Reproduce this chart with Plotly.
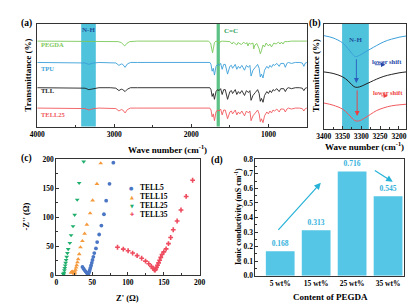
import plotly.graph_objects as go

W, H = 418, 306
FONT = "Liberation Serif"

# ---------------- data: panel (a) FTIR ----------------
pegda_wn = [4000, 3500, 3000, 2950, 2910, 2880, 2865, 2840, 2800, 2700, 2000, 1780, 1750, 1735, 1725,
            1715, 1700, 1680, 1650, 1637, 1625, 1600, 1500, 1470, 1455, 1440, 1410, 1395, 1380, 1350,
            1320, 1295, 1280, 1265, 1250, 1230, 1200, 1190, 1175, 1150, 1120, 1105, 1090, 1070, 1050,
            1030, 1000, 980, 960, 945, 930, 900, 870, 850, 830, 810, 790, 750, 700, 600, 500]
pegda_t = [88, 88, 88, 87.5, 86.5, 84, 83, 85.5, 87.5, 88, 88, 88, 86, 80, 76,
           80, 86.5, 88, 87.5, 85.5, 87.5, 88, 87.5, 85, 87, 86, 84, 86.5, 86, 84.5,
           87, 85, 86.5, 83, 86, 85, 86, 80, 84, 85.5, 80, 75, 78, 84, 82,
           86, 83, 85, 82, 84.5, 86, 85, 87, 85, 87, 85, 87.5, 87.5, 88, 88, 88]

ftir_wn = [4000, 3600, 3450, 3380, 3330, 3280, 3200, 3050, 2980, 2940, 2910, 2890, 2860, 2830, 2790,
           2700, 2400, 2000, 1800, 1760, 1745, 1730, 1715, 1700, 1680, 1660, 1640, 1620, 1600, 1580,
           1560, 1530, 1500, 1480, 1465, 1450, 1430, 1410, 1390, 1370, 1345, 1310, 1285, 1260, 1240,
           1225, 1200, 1170, 1140, 1120, 1105, 1090, 1070, 1050, 1020, 1000, 980, 960, 940, 920,
           890, 860, 840, 800, 780, 760, 740, 700, 650, 600, 560, 540, 520, 500]
tpu_t = [66, 66, 66, 65.5, 64, 65.3, 66, 66, 65.5, 63, 64.5, 64, 61, 64.5, 66,
         66, 66, 66, 66, 66, 64, 57, 60, 53, 62, 64, 63, 65, 59, 64,
         64, 54, 62, 63, 60, 62, 64, 59, 62, 60, 63, 58, 63, 61, 63,
         52, 58, 61, 64, 60, 51, 54, 50, 58, 62, 60, 63, 61, 64, 63,
         65, 62, 65, 65, 61, 65, 66, 65, 66, 66, 65.5, 62, 65.5, 66]
tll_t = [40, 40, 40, 39.5, 38, 39, 40, 40, 39.5, 37, 38.5, 38, 36, 38.5, 40,
         40, 40, 40, 40, 40, 38, 31, 34, 28, 36, 38, 37, 39, 33, 38,
         38, 28, 36, 37, 34, 36, 38, 33, 36, 34, 37, 32, 37, 35, 37,
         27, 32, 35, 38, 34, 26, 29, 25, 32, 36, 34, 37, 35, 38, 37,
         39, 36, 39, 39, 36, 39, 40, 39, 40, 40, 39.5, 37, 39.5, 40]
tell25_t = [19, 19, 19, 18.5, 17, 18.3, 19, 19, 18.5, 16, 17.5, 17, 14, 17.5, 19,
            19, 19, 19, 19, 19, 17, 10, 13, 6, 15, 17, 16, 18, 12, 17,
            17, 8, 15, 16, 13, 15, 17, 12, 15, 13, 16, 11, 16, 14, 16,
            6, 11, 14, 17, 13, 5, 8, 4, 11, 15, 13, 16, 14, 17, 16,
            18, 15, 18, 18, 15, 18, 19, 18, 19, 19, 18.5, 16, 18.5, 19]
ftir_names = ["PEGDA", "TPU", "TLL", "TELL25"]

# ---------------- data: panel (b) N-H zoom ----------------
nh_wn = [3400, 3375, 3350, 3335, 3325, 3316, 3305, 3290, 3275, 3260, 3240, 3220, 3200, 3180]
nh_tpu = [96.4, 94, 89, 83, 78, 74.7, 76, 79.4, 82.7, 86, 90, 92.7, 94.7, 96]
nh_tll = [59, 57.4, 54, 49.7, 45.7, 43.2, 43.5, 46, 48.7, 51.4, 54.4, 56.4, 58, 59]
nh_tell25 = [27, 24.7, 20.7, 15.7, 11.5, 8.6, 8.6, 11.7, 15.4, 19, 22, 24, 25, 25.7]

# ---------------- data: panel (c) Nyquist ----------------
tell5_re = [36.5, 38, 39.5, 41, 42.5, 43.5, 44.5, 45.3, 46, 46.8, 47.6, 48.5, 49.5, 50.5, 51.7, 53,
            55.3, 57, 59.8, 62.9, 66.5, 69.6, 74.2, 79.6]
tell5_im = [14, 11, 8.5, 6, 4, 2.5, 2, 3.5, 6, 9, 12.5, 16.5, 21, 26, 31.5, 38,
            46, 57, 70, 85.5, 105, 128.5, 157.5, 194]
tell15_re = [20.5, 21.5, 22.5, 23.5, 24.3, 25, 25.5, 26, 26.8, 27.6, 28.5, 29.5, 30.5, 32, 33.7,
             36.4, 39.5, 42.6, 47.2, 50.7, 56.7, 62]
tell15_im = [4, 5.5, 6, 5, 3.5, 2.5, 3.5, 6, 9, 13, 17, 22, 27.5, 36, 48,
             58.7, 71.5, 87, 106.7, 129, 157.5, 193]
tell25_re = [9.5, 10.3, 10.8, 11.3, 11.8, 12.4, 13.0, 13.7, 14.5, 15.5, 16.6, 18.9, 20.6, 23.3,
             25.6, 29.2, 31.9, 38.2]
tell25_im = [2, 1, 4, 8, 12, 16.5, 21, 26, 31.5, 38, 44.7, 55.3, 68.7, 84.3,
             104, 130, 159, 196]
tell35_re = [85.4, 93.5, 100.2, 106.5, 112.8, 119.1, 124.5, 129, 132.6, 135, 136.8, 137.8, 138.8,
             140, 141.3, 142.7, 144.2, 145.8, 147.5, 150, 153.2, 156.5, 159.6, 163.2, 168.6, 174,
             181.2, 190.2]
tell35_im = [48, 44.7, 41.9, 38, 33.5, 29, 24, 19.6, 15, 11.5, 9, 8.5, 10.5,
             13.5, 17, 21, 25.5, 30.5, 35.5, 40, 45.2, 54.2, 64.8, 78.2, 93.3, 112.3,
             135.7, 163.7]
eis_names = ["TELL5", "TELL15", "TELL25", "TELL35"]

# ---------------- data: panel (d) conductivity ----------------
pegda_content = ["5 wt%", "15 wt%", "25 wt%", "35 wt%"]
conductivity = [0.168, 0.313, 0.716, 0.545]

# ---------------- styling ----------------
C_GREEN = "#7cc95a"
C_BLUE = "#3b9fd9"
C_BLACK = "#222222"
C_RED = "#f0595d"
BAND = "#4fc2dc"
CC_BAND = "#5cc285"
BAR = "#55c6e6"
BAR_TXT = "#36b2dc"


def fx(p):
    return p / W


def fy(p):
    return 1 - p / H


fig = go.Figure()

# panel (a)
for wn, t, c, n in [(pegda_wn, pegda_t, C_GREEN, ftir_names[0]),
                    (ftir_wn, tpu_t, C_BLUE, ftir_names[1]),
                    (ftir_wn, tll_t, C_BLACK, ftir_names[2]),
                    (ftir_wn, tell25_t, C_RED, ftir_names[3])]:
    fig.add_trace(go.Scatter(x=wn, y=t, mode="lines", line=dict(color=c, width=0.9),
                             name=n, showlegend=False, xaxis="x", yaxis="y"))

# panel (b)
for t, c in [(nh_tpu, C_BLUE), (nh_tll, C_BLACK), (nh_tell25, C_RED)]:
    fig.add_trace(go.Scatter(x=nh_wn, y=t, mode="lines", line=dict(color=c, width=1, shape="spline"),
                             showlegend=False, xaxis="x2", yaxis="y2"))

# panel (c)
eis = [(tell5_re, tell5_im, "#4a76c4", "circle", 3.8),
       (tell15_re, tell15_im, "#f49a3c", "triangle-up", 4.2),
       (tell25_re, tell25_im, "#1fae6c", "triangle-down", 4.2),
       (tell35_re, tell35_im, "#ee4b5e", "cross", 4)]
for (re_, im_, c, sym, sz), n in zip(eis, eis_names):
    fig.add_trace(go.Scatter(x=re_, y=im_, mode="markers", name=n, showlegend=False,
                             marker=dict(color=c, symbol=sym, size=sz, line=dict(width=0)),
                             xaxis="x3", yaxis="y3"))

# panel (d)
fig.add_trace(go.Bar(x=list(range(len(conductivity))), y=conductivity, width=0.8,
                     marker=dict(color=BAR, line=dict(width=0)),
                     text=[f"{v:.3f}" for v in conductivity], textposition="outside",
                     textfont=dict(family=FONT, size=7.5, color=BAR_TXT, weight="bold"),
                     cliponaxis=False, showlegend=False, xaxis="x4", yaxis="y4"))

tickf = dict(family=FONT, size=7.5, color="black", weight="bold")
axbase = dict(showline=True, linecolor="#333", linewidth=1, mirror=True, showgrid=False,
              zeroline=False, ticks="inside", ticklen=3, tickcolor="#333", tickfont=tickf)

fig.update_layout(
    width=W, height=H, margin=dict(l=0, r=0, t=0, b=0),
    paper_bgcolor="white", plot_bgcolor="white",
    font=dict(family=FONT, color="black", weight="bold"),
    bargap=0.2,
    xaxis=dict(axbase, domain=[fx(22), fx(301)], range=[4000, 500], anchor="y",
               tickvals=[4000, 3000, 2000, 1000],
               minor=dict(ticks="inside", ticklen=2, dtick=500, tick0=0, tickcolor="#333")),
    yaxis=dict(axbase, domain=[fy(118), fy(12)], range=[0, 106], anchor="x",
               ticks="", showticklabels=False),
    xaxis2=dict(axbase, domain=[fx(318.3), fx(404)], range=[3400, 3180], anchor="y2",
                tickvals=[3400, 3350, 3300, 3250, 3200],
                minor=dict(ticks="inside", ticklen=2, dtick=25, tick0=0, tickcolor="#333")),
    yaxis2=dict(axbase, domain=[fy(120.7), fy(12)], range=[0, 108.7], anchor="x2",
                ticks="", showticklabels=False),
    xaxis3=dict(axbase, domain=[fx(41.7), fx(190)], range=[0, 200], anchor="y3",
                tickvals=[0, 50, 100, 150, 200],
                minor=dict(ticks="inside", ticklen=2, dtick=25, tick0=0, tickcolor="#333")),
    yaxis3=dict(axbase, domain=[fy(271), fy(151.7)], range=[0, 200], anchor="x3",
                tickvals=[0, 50, 100, 150, 200],
                minor=dict(ticks="inside", ticklen=2, dtick=25, tick0=0, tickcolor="#333")),
    xaxis4=dict(axbase, domain=[fx(247.7), fx(401.7)], range=[-0.69, 3.45], anchor="y4",
                tickvals=list(range(len(pegda_content))), ticktext=pegda_content, ticks=""),
    yaxis4=dict(axbase, domain=[fy(271.7), fy(151.7)], range=[0, 0.8], anchor="x4",
                tickvals=[0, 0.1, 0.2, 0.3, 0.4, 0.5, 0.6, 0.7, 0.8], tickformat=".1f",
                minor=dict(ticks="inside", ticklen=2, dtick=0.05, tick0=0, tickcolor="#333")),
)

# bands
fig.add_shape(type="rect", xref="x", yref="y domain", x0=3430, x1=3240, y0=0, y1=1,
              fillcolor=BAND, line=dict(width=0), layer="below")
fig.add_shape(type="rect", xref="x", yref="y domain", x0=1672, x1=1630, y0=0, y1=1,
              fillcolor=CC_BAND, line=dict(width=0), layer="below")
fig.add_shape(type="rect", xref="x2", yref="y2 domain", x0=3351, x1=3280, y0=0, y1=1,
              fillcolor=BAND, line=dict(width=0), layer="below")


def txt(x, y, s, size=8, color="black", xanchor="center", angle=0, family=FONT, **kw):
    fig.add_annotation(x=fx(x), y=fy(y), xref="paper", yref="paper", text=s, showarrow=False,
                       xanchor=xanchor, yanchor="middle", textangle=angle,
                       font=dict(family=family, size=size, color=color, weight="bold"), **kw)


# panel labels
txt(11, 12, "(a)", size=9.5)
txt(309, 12, "(b)", size=9.5)
txt(11, 151, "(c)", size=9.5)
txt(208, 153, "(d)", size=9.5)

# axis titles
txt(13, 65, "Transmittance (%)", size=9, angle=-90)
txt(157, 141, "Wave number (cm<sup>-1</sup>)", size=9)
txt(310.5, 66, "Transmittance (%)", size=9, angle=-90)
txt(361, 138, "Wave number (cm<sup>-1</sup>)", size=9)
txt(10, 211, "-Z'' (Ω)", size=8.5, angle=-90)
txt(115, 295, "Z' (Ω)", size=8.5)
txt(229, 211, "Ionic conductivity (mS cm<sup>-1</sup>)", size=8, angle=-90)
txt(325, 294, "Content of PEGDA", size=9)

# panel (a) labels
txt(24, 33.5, "PEGDA", size=6.5, color=C_GREEN, xanchor="left")
txt(24, 58.5, "TPU", size=6.5, color=C_BLUE, xanchor="left")
txt(24, 81, "TLL", size=6.5, color=C_BLACK, xanchor="left")
txt(24, 105.5, "TELL25", size=6.5, color=C_RED, xanchor="left")
txt(75, 19, "N-H", size=7, color="#1f4f9c")
txt(222, 19.5, "C=C", size=7, color="#2d9e5c")

# panel (b) labels
txt(351, 28.5, "N-H", size=7, color="#1f4f9c")
txt(384, 50.5, "lower shift", size=6.5, color="#2646a8")
txt(385, 82.5, "lower shift", size=6.5, color="#ee4040")

for x, y, ax, ay, c, xr, yr, w in [
        (3313, 47.5, 3313, 73.5, "#2a5cbc", "x2", "y2", 0.9),
        (3311, 13.5, 3311, 41.5, "#ee4040", "x2", "y2", 0.9),
        (3236, 66.4, 3268, 66.4, "#2646a8", "x2", "y2", 0.8),
        (3229, 34.3, 3251, 34.3, "#ee4040", "x2", "y2", 0.8),
        (1.13, 0.638, -0.09, 0.305, "#27b3d8", "x4", "y4", 1.2),
        (3.13, 0.645, 2.59, 0.729, "#27b3d8", "x4", "y4", 1.2)]:
    fig.add_annotation(x=x, y=y, ax=ax, ay=ay, xref=xr, yref=yr, axref=xr, ayref=yr, text="",
                       showarrow=True, arrowhead=2, arrowsize=1.1, arrowwidth=w, arrowcolor=c)

# panel (c) legend
leg_colors = ["#4a76c4", "#f49a3c", "#1fae6c", "#ee4b5e"]
leg_glyphs = ["●", "▲", "▼", "✚"]
for i, (n, c, g) in enumerate(zip(eis_names, leg_colors, leg_glyphs)):
    yy = 181 + i * 9.2
    txt(120, yy, g, size=5, color=c, family="DejaVu Sans")
    txt(126, yy, n, size=7.5, color="black", xanchor="left")

fig.write_html("out.html")
